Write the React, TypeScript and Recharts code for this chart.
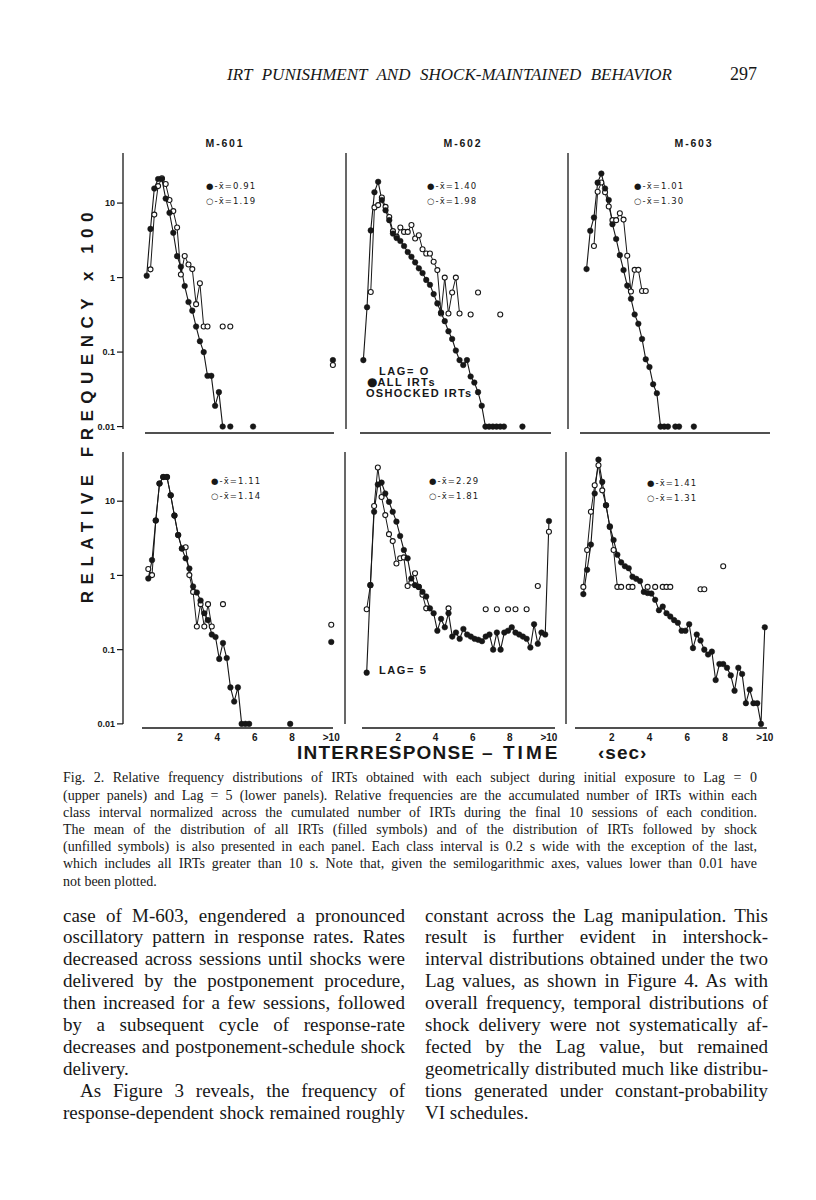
import React from "react";
import { LineChart, Line, XAxis, YAxis } from "recharts";

const _ = null;
type V = number | null;

// class intervals are 0.2 s wide, plotted at their centres; the ">10 s" class sits at 10.1
const BIN_START = 0.1;
const BIN_WIDTH = 0.2;
const BIN_COUNT = 50;
const OVER_10_X = 10.1;
const X_TICKS = [2, 4, 6, 8, 10.1];
const Y_TICKS = [0.01, 0.1, 1, 10];

const SUBJECTS = ["M-601", "M-602", "M-603"];

// relative frequency x 100, one entry per class interval (index 0 = 0-0.2 s)
// upper panels, Lag = 0
const M601_LAG0_ALL: V[] = [_, 1.06, 4.5, 15.7, 21, 21, 11.5, 7.4, 4.0, 1.94, 1.4, 0.77, 0.47, 0.36, 0.22, 0.14, 0.1, 0.048, 0.048, 0.019, 0.029, 0.01, _, 0.01, _, _, _, _, _, 0.01];
const M601_LAG0_SHOCKED: V[] = [_, _, 1.29, 7.0, 16.9, 21.5, 18, 11, 7.8, 4.7, 1.1, 1.95, 1.5, 1.3, 0.44, 0.84, 0.22, 0.22, _, _, _, 0.22, _, 0.22];
const M602_LAG0_ALL: V[] = [0.078, 0.4, 4.3, 14, 19.3, 11, 8, 5.9, 3.9, 3.4, 3.1, 2.65, 2.2, 1.9, 1.6, 1.33, 1.15, 0.93, 0.8, 0.6, 0.45, 0.34, 0.26, 0.19, 0.15, 0.105, 0.078, 0.067, 0.078, 0.047, 0.039, 0.029, 0.019, 0.01, 0.01, 0.01, 0.01, 0.01, 0.01, _, _, _, _, 0.01];
const M602_LAG0_SHOCKED: V[] = [_, _, 0.64, 8.75, 9.4, 11.9, 8.9, 6.5, 4.2, 3.54, 4.7, 4.1, 4.1, 5.07, 3.35, 3.7, 2.4, 2.1, 2.1, 1.63, 1.26, 0.33, 1.0, 0.33, 0.63, 1.0, 0.33, _, _, 0.32, _, 0.63, _, _, _, _, _, 0.32];
const M603_LAG0_ALL: V[] = [_, 1.3, 4.25, 6.4, 18.8, 24.9, 15.7, 11, 5.2, 3.3, 2.0, 1.26, 0.78, 0.52, 0.32, 0.24, 0.15, 0.08, 0.063, 0.037, 0.028, 0.01, 0.01, 0.01, _, 0.01, 0.01, _, _, _, 0.01];
const M603_LAG0_SHOCKED: V[] = [_, _, _, 2.65, 14.2, 18.9, 14, 9, 5.9, 5.9, 7.3, 6.0, 1.96, 0.65, 1.27, 1.27, 0.66, 0.66];

// lower panels, Lag = 5
const M601_LAG5_ALL: V[] = [_, 0.91, 1.61, 5.5, 17.3, 21.2, 21.2, 12, 6.4, 3.5, 2.3, 1.7, 1.24, 0.71, 0.59, 0.46, 0.31, 0.25, 0.16, 0.148, 0.075, 0.123, 0.077, 0.031, 0.02, 0.031, 0.01, 0.01, 0.01, _, _, _, _, _, _, _, _, _, _, 0.01];
const M601_LAG5_SHOCKED: V[] = [_, 1.22, 1.01, 5.5, 17.3, 21.2, 21.2, 12, 6.4, 3.5, 2.3, 2.4, 1.01, 0.6, 0.205, 0.41, 0.205, 0.41, 0.205, _, _, 0.41];
const M602_LAG5_ALL: V[] = [_, 0.049, 0.74, 7.2, 16.8, 17.8, 12.7, 9.8, 7.2, 5.3, 3.4, 2.2, 1.7, 0.91, 0.74, 0.7, 0.6, 0.52, 0.36, 0.31, 0.18, 0.26, 0.2, 0.31, 0.15, 0.17, 0.14, 0.19, 0.16, 0.15, 0.14, 0.136, 0.13, 0.15, 0.16, 0.1, 0.17, 0.1, 0.17, 0.18, 0.2, 0.17, 0.16, 0.15, 0.14, 0.107, 0.22, 0.12, 0.17, 0.16];
const M602_LAG5_SHOCKED: V[] = [_, 0.35, 0.74, 8.6, 28.4, 11.4, 6.5, 3.6, 2.9, 1.45, 1.7, 1.75, 0.72, 0.8, 1.07, 0.7, 0.55, 0.36, _, _, _, _, _, 0.36, _, _, _, _, _, _, _, _, _, 0.35, _, _, 0.35, _, _, 0.35, _, 0.35, _, _, 0.35, _, _, 0.72];
const M603_LAG5_ALL: V[] = [_, _, 0.56, 1.19, 2.6, 12.7, 36.3, 18.2, 8.8, 4.6, 3.0, 1.9, 1.5, 1.33, 1.25, 0.96, 0.9, 0.84, 0.6, 0.58, 0.57, 0.47, 0.34, 0.38, 0.31, 0.28, 0.25, 0.23, 0.18, 0.18, 0.22, 0.105, 0.16, 0.133, 0.1, 0.086, 0.094, 0.039, 0.064, 0.064, 0.057, 0.045, 0.028, 0.057, 0.047, 0.019, 0.029, 0.019, 0.019, 0.01];
const M603_LAG5_SHOCKED: V[] = [_, _, 0.7, 2.2, 7.2, 16.4, 30.5, 14, 8.8, 4.5, 2.2, 0.7, 0.7, _, 0.7, 0.7, _, _, _, 0.7, _, 0.7, _, 0.7, 0.7, 0.7, _, _, _, _, _, _, _, 0.65, 0.65, _, _, _, _, 1.33];

// the ">10 s" class, per subject
const OVER10_LAG0_ALL: V[] = [0.078, _, _];
const OVER10_LAG0_SHOCKED: V[] = [0.067, _, _];
const OVER10_LAG5_ALL: V[] = [0.127, 5.4, 0.2];
const OVER10_LAG5_SHOCKED: V[] = [0.217, 3.87, _];

// means printed in each panel
const MEAN_LAG0_ALL = ["0.91", "1.40", "1.01"];
const MEAN_LAG0_SHOCKED = ["1.19", "1.98", "1.30"];
const MEAN_LAG5_ALL = ["1.11", "2.29", "1.41"];
const MEAN_LAG5_SHOCKED = ["1.14", "1.81", "1.31"];

const CAPTION = [
  "Fig. 2.  Relative frequency distributions of IRTs obtained with each subject during initial exposure to Lag = 0",
  "(upper panels) and Lag = 5 (lower panels). Relative frequencies are the accumulated number of IRTs within each",
  "class interval normalized across the cumulated number of IRTs during the final 10 sessions of each condition.",
  "The mean of the distribution of all IRTs (filled symbols) and of the distribution of IRTs followed by shock",
  "(unfilled symbols) is also presented in each panel. Each class interval is 0.2 s wide with the exception of the last,",
  "which includes all IRTs greater than 10 s. Note that, given the semilogarithmic axes, values lower than 0.01 have",
  "not been plotted.",
];

const LEFT_COLUMN = [
  "case of M-603, engendered a pronounced",
  "oscillatory pattern in response rates. Rates",
  "decreased across sessions until shocks were",
  "delivered by the postponement procedure,",
  "then increased for a few sessions, followed",
  "by a subsequent cycle of response-rate",
  "decreases and postponement-schedule shock",
  "delivery.",
  "As Figure 3 reveals, the frequency of",
  "response-dependent shock remained roughly",
];

const RIGHT_COLUMN = [
  "constant across the Lag manipulation. This",
  "result is further evident in intershock-",
  "interval distributions obtained under the two",
  "Lag values, as shown in Figure 4. As with",
  "overall frequency, temporal distributions of",
  "shock delivery were not systematically af-",
  "fected by the Lag value, but remained",
  "geometrically distributed much like distribu-",
  "tions generated under constant-probability",
  "VI schedules.",
];

const SERIF = '"Liberation Serif", "Times New Roman", serif';
const SANS = '"Liberation Sans", Arial, sans-serif';
const INK = "#171717";

type Row = { top: number; bottom: number; yMin: number; yMax: number; labelsX: boolean };
type Geo = { axisX: number; x0: number; ppu: number; lineFrom: number; lineTo: number; tickGap: number; labelsY: boolean };

const TOP_ROW: Row = { top: 153, bottom: 433, yMin: 0.0082, yMax: 47, labelsX: false };
const BOTTOM_ROW: Row = { top: 452, bottom: 728, yMin: 0.0088, yMax: 46, labelsX: true };

const YW = 40;
const MT = 8;
const MR = 8;
const XH = 26;
const TICK = 6;

function buildRows(all: V[], shocked: V[], allOver: V, shockedOver: V) {
  const rows = [];
  for (let k = 0; k < BIN_COUNT; k++) {
    rows.push({
      x: Math.round((BIN_START + BIN_WIDTH * k) * 10) / 10,
      all: all[k] ?? null,
      shocked: shocked[k] ?? null,
    });
  }
  rows.push({ x: OVER_10_X, all: allOver, shocked: shockedOver });
  return rows;
}

function Panel({ row, geo, data }: { row: Row; geo: Geo; data: any[] }) {
  const xMin = (geo.axisX - geo.x0) / geo.ppu;
  const xMax = 10.6;
  const plotW = geo.x0 + xMax * geo.ppu - geo.axisX;
  const plotH = row.bottom - row.top;
  return (
    <div style={{ position: "absolute", left: geo.axisX - YW, top: row.top - MT }}>
      <LineChart
        width={YW + plotW + MR}
        height={MT + plotH + XH}
        data={data}
        margin={{ top: MT, right: MR, bottom: 0, left: 0 }}
      >
        <XAxis
          type="number"
          dataKey="x"
          domain={[xMin, xMax]}
          ticks={X_TICKS}
          interval={0}
          height={XH}
          axisLine={{
            stroke: INK,
            strokeWidth: 1.3,
            strokeDasharray: `0 ${geo.lineFrom - geo.axisX} ${geo.lineTo - geo.lineFrom} 4000`,
          }}
          tickLine={row.labelsX ? false : { stroke: INK, strokeWidth: 1.2 }}
          tickSize={row.labelsX ? 4 : TICK}
          tickMargin={2}
          tick={row.labelsX ? { fill: INK, fontSize: 10, fontWeight: 700, fontFamily: SANS } : false}
          tickFormatter={(v: number) => (v > 10 ? ">10" : String(v))}
        />
        <YAxis
          type="number"
          scale="log"
          domain={[row.yMin, row.yMax]}
          ticks={Y_TICKS}
          interval={0}
          width={YW}
          axisLine={{ stroke: INK, strokeWidth: 1.3, strokeDasharray: `${plotH - 4} 4000` }}
          tickLine={{ stroke: INK, strokeWidth: 1.2, strokeDasharray: `${TICK} 100` }}
          tickSize={TICK + geo.tickGap}
          tickMargin={2}
          tick={geo.labelsY ? { fill: INK, fontSize: 9, fontWeight: 700, fontFamily: SANS } : false}
          tickFormatter={(v: number) => String(v)}
        />
        <Line
          dataKey="shocked"
          stroke={INK}
          strokeWidth={1}
          dot={{ r: 2.5, fill: "#fff", stroke: INK, strokeWidth: 1.1 }}
          activeDot={false}
          connectNulls={false}
          isAnimationActive={false}
        />
        <Line
          dataKey="all"
          stroke={INK}
          strokeWidth={1.1}
          dot={{ r: 2.8, fill: INK, stroke: INK, strokeWidth: 0.5 }}
          activeDot={false}
          connectNulls={false}
          isAnimationActive={false}
        />
      </LineChart>
    </div>
  );
}

const GEOS: Geo[][] = [
  [
    { axisX: 123, x0: 141, ppu: 19.0, lineFrom: 145, lineTo: 334, tickGap: 0, labelsY: true },
    { axisX: 346, x0: 361.5, ppu: 18.5, lineFrom: 360, lineTo: 551, tickGap: 9, labelsY: false },
    { axisX: 568, x0: 581, ppu: 18.5, lineFrom: 580, lineTo: 770, tickGap: 3, labelsY: false },
  ],
  [
    { axisX: 123, x0: 142.7, ppu: 18.67, lineFrom: 142, lineTo: 333, tickGap: 0, labelsY: true },
    { axisX: 345, x0: 361.1, ppu: 18.6, lineFrom: 362, lineTo: 555, tickGap: 9, labelsY: false },
    { axisX: 566, x0: 573.9, ppu: 18.9, lineFrom: 575, lineTo: 767, tickGap: 3, labelsY: false },
  ],
];

const LEGEND_POS = [
  [{ x: 206, y: 186 }, { x: 427, y: 186 }, { x: 634, y: 186 }],
  [{ x: 211, y: 481 }, { x: 429, y: 481 }, { x: 647, y: 483 }],
];

function Txt({ x, cy, size, children, style }: { x: number; cy: number; size: number; children: React.ReactNode; style?: React.CSSProperties }) {
  return (
    <div
      style={{
        position: "absolute",
        left: x,
        top: cy - size / 2,
        fontSize: size,
        lineHeight: `${size}px`,
        whiteSpace: "nowrap",
        color: INK,
        ...style,
      }}
    >
      {children}
    </div>
  );
}

function Justified({ text, x, width, cy, size, last }: { text: string; x: number; width: number; cy: number; size: number; last?: boolean }) {
  return (
    <div
      style={{
        position: "absolute",
        left: x,
        width,
        top: cy - size * 0.55,
        fontFamily: SERIF,
        fontSize: size,
        lineHeight: `${size}px`,
        color: INK,
        textAlign: last ? "left" : "justify",
        textAlignLast: last ? "left" : "justify",
      }}
    >
      {text}
    </div>
  );
}

function Legend({ x, y, all, shocked }: { x: number; y: number; all: string; shocked: string }) {
  const st: React.CSSProperties = { fontFamily: '"DejaVu Sans", sans-serif', letterSpacing: 1.1 };
  return (
    <>
      <Txt x={x} cy={y} size={8.5} style={st}>{`\u25CF-x\u0304=${all}`}</Txt>
      <Txt x={x} cy={y + 15} size={8.5} style={st}>{`\u25CB-x\u0304=${shocked}`}</Txt>
    </>
  );
}

export default function App() {
  const lag0 = [
    buildRows(M601_LAG0_ALL, M601_LAG0_SHOCKED, OVER10_LAG0_ALL[0], OVER10_LAG0_SHOCKED[0]),
    buildRows(M602_LAG0_ALL, M602_LAG0_SHOCKED, OVER10_LAG0_ALL[1], OVER10_LAG0_SHOCKED[1]),
    buildRows(M603_LAG0_ALL, M603_LAG0_SHOCKED, OVER10_LAG0_ALL[2], OVER10_LAG0_SHOCKED[2]),
  ];
  const lag5 = [
    buildRows(M601_LAG5_ALL, M601_LAG5_SHOCKED, OVER10_LAG5_ALL[0], OVER10_LAG5_SHOCKED[0]),
    buildRows(M602_LAG5_ALL, M602_LAG5_SHOCKED, OVER10_LAG5_ALL[1], OVER10_LAG5_SHOCKED[1]),
    buildRows(M603_LAG5_ALL, M603_LAG5_SHOCKED, OVER10_LAG5_ALL[2], OVER10_LAG5_SHOCKED[2]),
  ];
  const titleX = [225, 463, 694];
  const sansBold: React.CSSProperties = { fontFamily: SANS, fontWeight: 700 };

  return (
    <div style={{ position: "absolute", left: 0, top: 0, width: 816, height: 1200, background: "#fff", overflow: "hidden" }}>
      {/* running head */}
      <div style={{ position: "absolute", left: 227, top: 66, width: 445, fontFamily: SERIF, fontStyle: "italic", fontSize: 17, lineHeight: "18px", color: INK, textAlign: "justify", textAlignLast: "justify" }}>
        IRT PUNISHMENT AND SHOCK-MAINTAINED BEHAVIOR
      </div>
      <div style={{ position: "absolute", left: 717, top: 65, width: 40, textAlign: "right", fontFamily: SERIF, fontSize: 18, lineHeight: "19px", color: INK }}>297</div>

      {SUBJECTS.map((s, i) => (
        <Txt key={s} x={titleX[i]} cy={143} size={10.5} style={{ ...sansBold, letterSpacing: 1.8, transform: "translateX(-50%)" }}>
          {s}
        </Txt>
      ))}

      {lag0.map((d, i) => (
        <Panel key={`a${i}`} row={TOP_ROW} geo={GEOS[0][i]} data={d} />
      ))}
      {lag5.map((d, i) => (
        <Panel key={`b${i}`} row={BOTTOM_ROW} geo={GEOS[1][i]} data={d} />
      ))}

      {SUBJECTS.map((s, i) => (
        <Legend key={`l0${s}`} x={LEGEND_POS[0][i].x} y={LEGEND_POS[0][i].y} all={MEAN_LAG0_ALL[i]} shocked={MEAN_LAG0_SHOCKED[i]} />
      ))}
      {SUBJECTS.map((s, i) => (
        <Legend key={`l5${s}`} x={LEGEND_POS[1][i].x} y={LEGEND_POS[1][i].y} all={MEAN_LAG5_ALL[i]} shocked={MEAN_LAG5_SHOCKED[i]} />
      ))}

      <Txt x={379} cy={371} size={11} style={{ ...sansBold, letterSpacing: 1.6 }}>LAG= O</Txt>
      <Txt x={367} cy={382} size={11} style={{ ...sansBold, letterSpacing: 1.4 }}>
        <span style={{ fontFamily: '"DejaVu Sans", sans-serif', fontSize: 12, letterSpacing: 0 }}>{"\u25CF"}</span>ALL IRTs
      </Txt>
      <Txt x={366} cy={393} size={11} style={{ ...sansBold, letterSpacing: 1.3 }}>OSHOCKED IRTs</Txt>
      <Txt x={379} cy={670} size={11} style={{ ...sansBold, letterSpacing: 1.6 }}>LAG= 5</Txt>

      {/* axis titles */}
      <div
        style={{
          position: "absolute",
          left: 79,
          top: 206,
          writingMode: "vertical-rl",
          transform: "rotate(180deg)",
          fontFamily: SANS,
          fontWeight: 700,
          fontSize: 17,
          lineHeight: "18px",
          letterSpacing: 6.5,
          whiteSpace: "nowrap",
          color: INK,
        }}
      >
        RELATIVE FREQUENCY x 100
      </div>
      <Txt x={297} cy={752} size={19} style={{ ...sansBold, letterSpacing: 1.2 }}>INTERRESPONSE</Txt>
      <Txt x={482} cy={752} size={19} style={sansBold}>{"\u2013"}</Txt>
      <Txt x={503} cy={752} size={19} style={{ ...sansBold, letterSpacing: 3 }}>TIME</Txt>
      <Txt x={598} cy={752} size={19} style={{ ...sansBold, letterSpacing: 1 }}>{"\u2039sec\u203A"}</Txt>

      {CAPTION.map((t, i) => (
        <Justified key={`c${i}`} text={t} x={63} width={694} cy={779 + i * 17.2} size={14} last={i === CAPTION.length - 1} />
      ))}
      {LEFT_COLUMN.map((t, i) => (
        <Justified
          key={`lc${i}`}
          text={t}
          x={i === 8 ? 80 : 63}
          width={i === 8 ? 325 : 342}
          cy={916 + i * 21.9}
          size={19}
          last={i === 7}
        />
      ))}
      {RIGHT_COLUMN.map((t, i) => (
        <Justified key={`rc${i}`} text={t} x={425} width={343} cy={916 + i * 21.9} size={19} last={i === RIGHT_COLUMN.length - 1} />
      ))}
    </div>
  );
}
